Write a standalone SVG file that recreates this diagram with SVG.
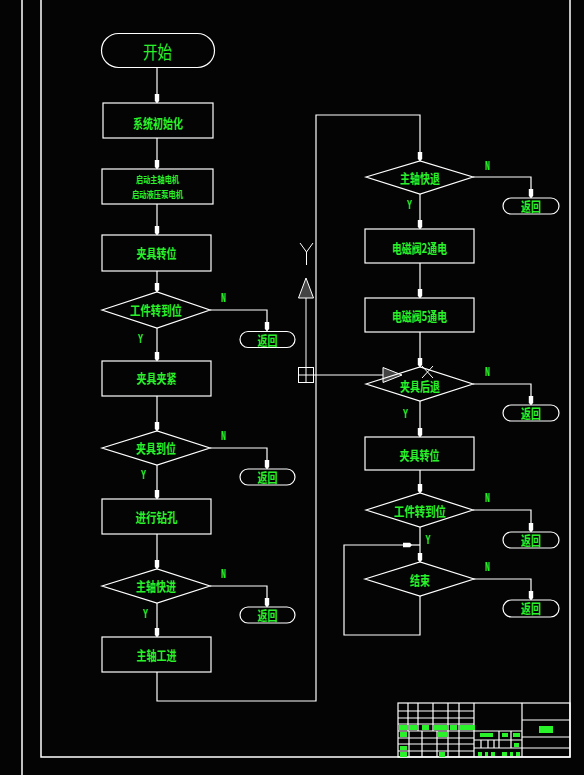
<svg xmlns="http://www.w3.org/2000/svg" width="584" height="775" viewBox="0 0 584 775">
<style>
.bg{fill:#040404}
.ln{fill:none;stroke:#fff;stroke-width:1.2}
.shape{fill:none;stroke:#fff;stroke-width:1.2}
.t{fill:#2af22a;font-family:"Noto Sans CJK SC","Noto Sans",sans-serif;font-weight:bold;font-size:13px;text-anchor:middle;dominant-baseline:central;transform:translateY(-1px)}
.big{font-size:18px;font-weight:normal}
.sm{font-size:9px}
.yn{fill:#2af22a;font-family:"Liberation Mono",monospace;font-weight:bold;font-size:12px;text-anchor:middle;dominant-baseline:central}
.g{fill:#2af22a}
.frame{stroke:#fff;stroke-width:1.5;fill:none}
</style>
<defs>
<marker id="ah" markerUnits="userSpaceOnUse" markerWidth="10" markerHeight="6" refX="9" refY="3" orient="auto">
<path d="M0,0.8 L7,0.8 L9,3 L7,5.2 L0,5.2 z" fill="#fff"/>
</marker>
</defs>
<rect class="bg" x="0" y="0" width="584" height="775"/>

<g id="frame">
<line class="frame" x1="22" y1="0" x2="22" y2="775"/>
<polyline class="frame" points="41,0 41,757 570,757 570,0"/>
</g>

<g id="title-block" stroke="#fff" stroke-width="1.2" fill="none">
<rect x="398" y="703" width="172" height="54"/>
<path d="M398,711H474M398,718H474M398,724H474M398,731H474M398,738H474M398,744H474M398,751H474"/>
<path d="M408,703V731M418,703V731M433,703V731M448,703V731M459,703V731"/>
<path d="M409,731V757M422,731V757M437,731V757M448,731V757M459,731V757"/>
<path d="M474,703V757M522,703V757"/>
<path d="M474,731H522M474,740H522M474,748H522"/>
<path d="M499,731V748M511,731V748M481,740V748M488,740V748M494,740V748"/>
<path d="M522,720H570M522,737H570M522,748H570"/>
<g class="g" stroke="none">
<rect x="399" y="725" width="8" height="5"/><rect x="409" y="725" width="8" height="5"/><rect x="422" y="725" width="7" height="5"/><rect x="433" y="725" width="14" height="5"/><rect x="450" y="725" width="7" height="5"/><rect x="460" y="725" width="15" height="5"/>
<rect x="400" y="732" width="7" height="5"/><rect x="437" y="732" width="10" height="5"/>
<rect x="400" y="746" width="7" height="4"/>
<rect x="400" y="752" width="7" height="5"/><rect x="439" y="752" width="6" height="5"/>
<rect x="480" y="733" width="13" height="4"/><rect x="502" y="733" width="6" height="4"/><rect x="513" y="733" width="7" height="4"/>
<rect x="514" y="743" width="5" height="4"/>
<rect x="478" y="752" width="4" height="4"/><rect x="485" y="752" width="3" height="4"/><rect x="491" y="752" width="4" height="4"/><rect x="502" y="752" width="5" height="4"/><rect x="510" y="752" width="3" height="4"/><rect x="516" y="752" width="4" height="4"/>
<rect x="539" y="726" width="14" height="7"/>
</g>
</g>

<g id="ucs-icon" stroke="#fff" stroke-width="1" fill="none">
<path d="M300,243L306.5,252L313,243M306.5,252V265"/>
<polygon points="306,278 298.5,298 313.5,298" fill="#444"/>
<line x1="306" y1="298" x2="306" y2="367.5"/>
<rect x="298.5" y="367.5" width="15" height="15"/>
<path d="M306,367.5V382.5M298.5,375H313.5"/>
<line x1="313.5" y1="375" x2="383" y2="375"/>
<polygon points="383,367.5 402,375 383,382.5" fill="#444"/>
<path d="M422,366L433,378M433,366L422,378"/>
</g>

<g id="connectors">
<line class="ln" x1="157" y1="67" x2="157" y2="103" marker-end="url(#ah)"/>
<line class="ln" x1="157" y1="138" x2="157" y2="169" marker-end="url(#ah)"/>
<line class="ln" x1="157" y1="204" x2="157" y2="235" marker-end="url(#ah)"/>
<line class="ln" x1="157" y1="271" x2="157" y2="292" marker-end="url(#ah)"/>
<line class="ln" x1="157" y1="328" x2="157" y2="361" marker-end="url(#ah)"/>
<line class="ln" x1="157" y1="396" x2="157" y2="431" marker-end="url(#ah)"/>
<line class="ln" x1="157" y1="465" x2="157" y2="499" marker-end="url(#ah)"/>
<line class="ln" x1="157" y1="534" x2="157" y2="569" marker-end="url(#ah)"/>
<line class="ln" x1="157" y1="603" x2="157" y2="637" marker-end="url(#ah)"/>
<polyline class="ln" points="157,672 157,701 316,701 316,115 420,115 420,161" marker-end="url(#ah)"/>
<polyline class="ln" points="210,310 267,310 267,331" marker-end="url(#ah)"/>
<polyline class="ln" points="210,448 267,448 267,469" marker-end="url(#ah)"/>
<polyline class="ln" points="210,586 267,586 267,607" marker-end="url(#ah)"/>
<line class="ln" x1="420" y1="194" x2="420" y2="229" marker-end="url(#ah)"/>
<line class="ln" x1="420" y1="263" x2="420" y2="298" marker-end="url(#ah)"/>
<line class="ln" x1="420" y1="332" x2="420" y2="367" marker-end="url(#ah)"/>
<line class="ln" x1="420" y1="401" x2="420" y2="437" marker-end="url(#ah)"/>
<line class="ln" x1="420" y1="470" x2="420" y2="493" marker-end="url(#ah)"/>
<line class="ln" x1="420" y1="527" x2="420" y2="562" marker-end="url(#ah)"/>
<polyline class="ln" points="420,596 420,635 344,635 344,545 412,545" marker-end="url(#ah)"/>
<line class="ln" x1="412" y1="545" x2="420" y2="545"/>
<polyline class="ln" points="473,177 531,177 531,198" marker-end="url(#ah)"/>
<polyline class="ln" points="473,384 531,384 531,405" marker-end="url(#ah)"/>
<polyline class="ln" points="473,510 531,510 531,532" marker-end="url(#ah)"/>
<polyline class="ln" points="473,579 531,579 531,600" marker-end="url(#ah)"/>
</g>

<g id="start"><rect class="shape" x="101.5" y="33.5" width="113" height="34" rx="17"/><text class="t big" x="157.5" y="52" textLength="29" lengthAdjust="spacingAndGlyphs">开始</text></g>
<g id="init"><rect class="shape" x="103" y="103" width="110" height="35"/><text class="t" x="158" y="123.5" textLength="50" lengthAdjust="spacingAndGlyphs">系统初始化</text></g>
<g id="motors"><rect class="shape" x="102" y="169" width="111" height="35"/><text class="t sm" x="157.5" y="180.5" textLength="43" lengthAdjust="spacingAndGlyphs">启动主轴电机</text><text class="t sm" x="157.5" y="195.5" textLength="51" lengthAdjust="spacingAndGlyphs">启动液压泵电机</text></g>
<g id="fixture-index-1"><rect class="shape" x="102" y="235" width="109" height="36"/><text class="t" x="156.5" y="253" textLength="40" lengthAdjust="spacingAndGlyphs">夹具转位</text></g>
<g id="dec-work-1"><polygon class="shape" points="102,310 157,292 210,310 157,328"/><text class="t" x="156" y="310.5" textLength="52" lengthAdjust="spacingAndGlyphs">工件转到位</text></g>
<g id="ret-1"><rect class="shape" x="240" y="331.5" width="55" height="16" rx="8"/><text class="t" x="267.5" y="340" textLength="20" lengthAdjust="spacingAndGlyphs">返回</text></g>
<g id="clamp"><rect class="shape" x="102" y="361" width="109" height="35"/><text class="t" x="156.5" y="378.5" textLength="40" lengthAdjust="spacingAndGlyphs">夹具夹紧</text></g>
<g id="dec-clamp"><polygon class="shape" points="102,448 157,431 210,448 157,465"/><text class="t" x="156" y="448" textLength="40" lengthAdjust="spacingAndGlyphs">夹具到位</text></g>
<g id="ret-2"><rect class="shape" x="240" y="469" width="55" height="16" rx="8"/><text class="t" x="267.5" y="477" textLength="20" lengthAdjust="spacingAndGlyphs">返回</text></g>
<g id="drill"><rect class="shape" x="102" y="499" width="109" height="35"/><text class="t" x="156.5" y="517" textLength="42" lengthAdjust="spacingAndGlyphs">进行钻孔</text></g>
<g id="dec-fast-fwd"><polygon class="shape" points="102,586 157,569 210,586 157,603"/><text class="t" x="156" y="586" textLength="40" lengthAdjust="spacingAndGlyphs">主轴快进</text></g>
<g id="ret-3"><rect class="shape" x="240" y="607" width="55" height="16" rx="8"/><text class="t" x="267.5" y="615" textLength="20" lengthAdjust="spacingAndGlyphs">返回</text></g>
<g id="work-feed"><rect class="shape" x="102" y="637" width="109" height="35"/><text class="t" x="156.5" y="655" textLength="40" lengthAdjust="spacingAndGlyphs">主轴工进</text></g>

<g id="dec-fast-back"><polygon class="shape" points="366,177 420,161 473,177 420,194"/><text class="t" x="420" y="178" textLength="40" lengthAdjust="spacingAndGlyphs">主轴快退</text></g>
<g id="ret-4"><rect class="shape" x="503" y="198" width="56" height="16" rx="8"/><text class="t" x="531" y="206" textLength="20" lengthAdjust="spacingAndGlyphs">返回</text></g>
<g id="valve2"><rect class="shape" x="365" y="229" width="109" height="34"/><text class="t" x="419.5" y="248.5" textLength="55" lengthAdjust="spacingAndGlyphs">电磁阀2通电</text></g>
<g id="valve5"><rect class="shape" x="365" y="298" width="109" height="34"/><text class="t" x="419.5" y="316" textLength="55" lengthAdjust="spacingAndGlyphs">电磁阀5通电</text></g>
<g id="dec-fixture-back"><polygon class="shape" points="366,384 420,367 473,384 420,401"/><text class="t" x="420" y="386" textLength="40" lengthAdjust="spacingAndGlyphs">夹具后退</text></g>
<g id="ret-5"><rect class="shape" x="503" y="405" width="56" height="16" rx="8"/><text class="t" x="531" y="413.5" textLength="20" lengthAdjust="spacingAndGlyphs">返回</text></g>
<g id="fixture-index-2"><rect class="shape" x="365" y="437" width="109" height="33"/><text class="t" x="419.5" y="455" textLength="40" lengthAdjust="spacingAndGlyphs">夹具转位</text></g>
<g id="dec-work-2"><polygon class="shape" points="366,510 420,493 473,510 420,527"/><text class="t" x="420" y="511" textLength="52" lengthAdjust="spacingAndGlyphs">工件转到位</text></g>
<g id="ret-6"><rect class="shape" x="503" y="532" width="56" height="16" rx="8"/><text class="t" x="531" y="540" textLength="20" lengthAdjust="spacingAndGlyphs">返回</text></g>
<g id="dec-end"><polygon class="shape" points="365,579 420,562 474,579 420,596"/><text class="t" x="420" y="580.5" textLength="20" lengthAdjust="spacingAndGlyphs">结束</text></g>
<g id="ret-7"><rect class="shape" x="503" y="600" width="56" height="17" rx="8.5"/><text class="t" x="531" y="608.5" textLength="20" lengthAdjust="spacingAndGlyphs">返回</text></g>

<g id="branch-labels">
<text class="yn" x="223.5" y="299" textLength="5" lengthAdjust="spacingAndGlyphs">N</text>
<text class="yn" x="140.5" y="339.5" textLength="5" lengthAdjust="spacingAndGlyphs">Y</text>
<text class="yn" x="223.5" y="437" textLength="5" lengthAdjust="spacingAndGlyphs">N</text>
<text class="yn" x="143.5" y="476" textLength="5" lengthAdjust="spacingAndGlyphs">Y</text>
<text class="yn" x="223.5" y="575" textLength="5" lengthAdjust="spacingAndGlyphs">N</text>
<text class="yn" x="145.5" y="614.5" textLength="5" lengthAdjust="spacingAndGlyphs">Y</text>
<text class="yn" x="487.5" y="167" textLength="5" lengthAdjust="spacingAndGlyphs">N</text>
<text class="yn" x="409.5" y="205.5" textLength="5" lengthAdjust="spacingAndGlyphs">Y</text>
<text class="yn" x="487.5" y="373" textLength="5" lengthAdjust="spacingAndGlyphs">N</text>
<text class="yn" x="405.5" y="415" textLength="5" lengthAdjust="spacingAndGlyphs">Y</text>
<text class="yn" x="487.5" y="499" textLength="5" lengthAdjust="spacingAndGlyphs">N</text>
<text class="yn" x="428" y="540.5" textLength="5" lengthAdjust="spacingAndGlyphs">Y</text>
<text class="yn" x="487.5" y="568" textLength="5" lengthAdjust="spacingAndGlyphs">N</text>
</g>
</svg>
